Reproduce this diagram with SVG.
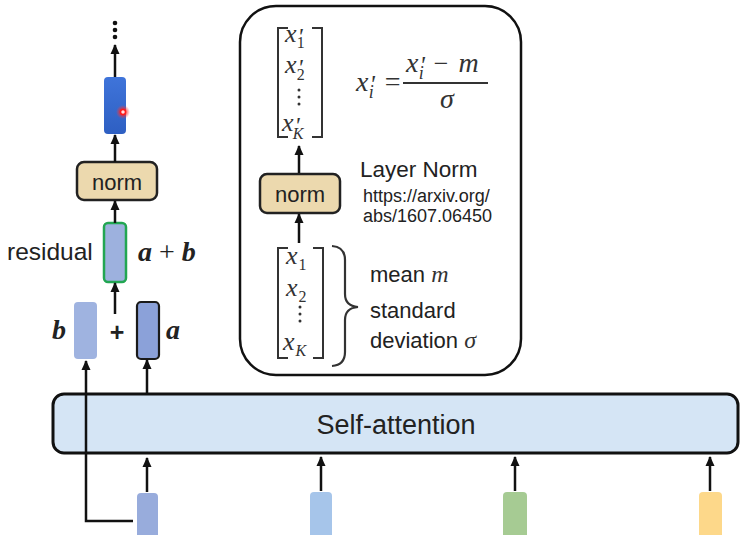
<svg xmlns="http://www.w3.org/2000/svg" width="745" height="535" viewBox="0 0 745 535">
<style>
.sans{font-family:"Liberation Sans",Arial,sans-serif;fill:#222}
.math{font-family:"Liberation Serif","DejaVu Serif",serif;font-style:italic;fill:#333}
.up{font-style:normal}
.bm{font-family:"Liberation Serif","DejaVu Serif",serif;font-style:italic;font-weight:bold;fill:#222}
.ln{stroke:#111;stroke-width:2.5;fill:none}
.br{stroke:#333;stroke-width:2;fill:none}
.norm{fill:#ecd9ae;stroke:#222;stroke-width:2.5}
</style>
<defs>
<marker id="ah" viewBox="0 0 10 10" refX="9" refY="5" markerWidth="10" markerHeight="10" markerUnits="userSpaceOnUse" orient="auto">
<path d="M0,0.5 L10,5 L0,9.5 z" fill="#111"/>
</marker>
<linearGradient id="blueTop" x1="0" y1="0" x2="0" y2="1">
<stop offset="0" stop-color="#3f74da"/><stop offset="1" stop-color="#2e5fc2"/>
</linearGradient>
<radialGradient id="glow">
<stop offset="0.3" stop-color="#ff2020" stop-opacity="0.9"/><stop offset="1" stop-color="#ff4040" stop-opacity="0"/>
</radialGradient>
</defs>
<rect width="745" height="535" fill="#ffffff"/>

<g id="layer-norm-panel">
<rect x="240" y="6" width="281" height="369" rx="36" fill="#ffffff" stroke="#111" stroke-width="2.5"/>
<!-- x' matrix -->
<path class="br" d="M288,28 L278,28 L278,137 L288,137"/>
<path class="br" d="M312,28 L322,28 L322,137 L312,137"/>
<text class="math" x="285" y="42" font-size="26">x<tspan font-size="24" dx="1" dy="2">'</tspan><tspan class="up" font-size="16" dx="-6" dy="4">1</tspan></text>
<text class="math" x="285" y="73" font-size="26">x<tspan font-size="24" dx="1" dy="2">'</tspan><tspan class="up" font-size="16" dx="-6" dy="5">2</tspan></text>
<g fill="#333"><circle cx="299" cy="90" r="1.5"/><circle cx="299" cy="97" r="1.5"/><circle cx="299" cy="104" r="1.5"/></g>
<text class="math" x="282" y="131" font-size="26">x<tspan font-size="24" dx="1" dy="2">'</tspan><tspan font-size="16" dx="-7" dy="6">K</tspan></text>
<!-- formula -->
<text class="math" x="356" y="91" font-size="28">x<tspan font-size="25" dx="1" dy="2">'</tspan><tspan font-size="18" dx="-6" dy="5">i</tspan><tspan class="up" font-size="28" dx="11" dy="-7">=</tspan></text>
<text class="math" x="406" y="72" font-size="28">x<tspan font-size="25" dx="1" dy="2">'</tspan><tspan font-size="18" dx="-6" dy="5">i</tspan><tspan class="up" font-size="26" dx="10" dy="-7">−</tspan><tspan dx="10">m</tspan></text>
<line x1="403" y1="83" x2="488" y2="83" stroke="#333" stroke-width="1.8"/>
<text class="math" font-size="28" x="447" y="108" text-anchor="middle">σ</text>
<!-- inner norm -->
<g id="norm-inner">
<rect class="norm" x="260" y="174" width="80" height="39" rx="7"/>
<text class="sans" x="300" y="202" font-size="22" text-anchor="middle">norm</text>
</g>
<text class="sans" x="360" y="177" font-size="22.5">Layer Norm</text>
<text class="sans" x="363" y="202" font-size="18" fill="#444">https://arxiv.org/</text>
<text class="sans" x="363" y="222" font-size="18" fill="#444">abs/1607.06450</text>
<!-- x matrix -->
<path class="br" d="M288,248 L278,248 L278,358 L288,358"/>
<path class="br" d="M313,248 L323,248 L323,358 L313,358"/>
<text class="math" x="286" y="264" font-size="26">x<tspan class="up" font-size="16" dx="1" dy="6">1</tspan></text>
<text class="math" x="286" y="296" font-size="26">x<tspan class="up" font-size="16" dx="1" dy="6">2</tspan></text>
<g fill="#333"><circle cx="300" cy="307" r="1.5"/><circle cx="300" cy="314" r="1.5"/><circle cx="300" cy="321" r="1.5"/></g>
<text class="math" x="283" y="350" font-size="26">x<tspan font-size="16" dx="1" dy="6">K</tspan></text>
<!-- brace -->
<path d="M332,246 Q345,247 345,260 L345,294 Q345,306 358,307 Q345,308 345,320 L345,352 Q345,365 332,366" fill="none" stroke="#333" stroke-width="2.2"/>
<text class="sans" x="370" y="282" font-size="22">mean <tspan class="math" font-size="24" fill="#333">m</tspan></text>
<text class="sans" x="370" y="318" font-size="22">standard</text>
<text class="sans" x="370" y="348" font-size="22">deviation <tspan class="math" font-size="24" fill="#333">σ</tspan></text>
</g>

<!-- top dots -->
<g id="vdots" fill="#111">
<circle cx="115" cy="23" r="2.3"/><circle cx="115" cy="30" r="2.3"/><circle cx="115" cy="37" r="2.3"/>
</g>

<g id="output">
<rect x="104" y="77" width="22" height="57" rx="4" fill="url(#blueTop)"/>
<circle cx="123" cy="112" r="7" fill="url(#glow)"/>
<circle cx="123" cy="112" r="2.5" fill="#ffe0e0" stroke="#ff1a1a" stroke-width="1.5"/>
</g>

<g id="norm-left">
<rect class="norm" x="77" y="162" width="80" height="38" rx="7"/>
<text class="sans" x="117" y="190" font-size="22" text-anchor="middle">norm</text>
</g>

<g id="residual">
<rect x="104" y="223" width="22" height="59" rx="4" fill="#9db1de" stroke="#22a652" stroke-width="2.5"/>
<text class="sans" x="7" y="260" font-size="24.5">residual</text>
<text class="bm" x="138" y="261" font-size="28">a <tspan font-style="normal" font-weight="normal">+</tspan> b</text>
</g>

<g id="b-vec">
<rect x="74" y="302" width="23" height="57" rx="4" fill="#9fb3e0"/>
<text class="bm" x="52" y="339" font-size="28">b</text>
</g>
<text class="sans" x="117" y="341" font-size="25" font-weight="bold" text-anchor="middle">+</text>
<g id="a-vec">
<rect x="137" y="302" width="22" height="57" rx="4" fill="#8ba1d9" stroke="#1a1a1a" stroke-width="2.2"/>
<text class="bm" x="166" y="339" font-size="28">a</text>
</g>

<g id="self-attention">
<rect x="53" y="394" width="685" height="59" rx="11" fill="#d5e5f5" stroke="#111" stroke-width="3"/>
<text class="sans" x="396" y="434" font-size="27" text-anchor="middle" fill="#222">Self-attention</text>
</g>

<g id="inputs">
<rect x="137" y="493" width="21" height="50" rx="4" fill="#98acdc"/>
<rect x="310" y="492" width="22" height="50" rx="4" fill="#a6c5ea"/>
<rect x="503" y="492" width="24" height="50" rx="4" fill="#a6cb93"/>
<rect x="699" y="492" width="23" height="50" rx="4" fill="#fdd88a"/>
</g>

<!-- connectors -->
<g id="connectors">
<line class="ln" x1="115" y1="77" x2="115" y2="45" marker-end="url(#ah)"/>
<line class="ln" x1="115" y1="162" x2="115" y2="135" marker-end="url(#ah)"/>
<line class="ln" x1="115" y1="223" x2="115" y2="201" marker-end="url(#ah)"/>
<line class="ln" x1="115" y1="314" x2="115" y2="283" marker-end="url(#ah)"/>
<polyline class="ln" points="133,521 86,521 86,361" marker-end="url(#ah)"/>
<line class="ln" x1="147" y1="394" x2="147" y2="360" marker-end="url(#ah)"/>
<line class="ln" x1="147" y1="492" x2="147" y2="458" marker-end="url(#ah)"/>
<line class="ln" x1="321" y1="491" x2="321" y2="457" marker-end="url(#ah)"/>
<line class="ln" x1="515" y1="491" x2="515" y2="457" marker-end="url(#ah)"/>
<line class="ln" x1="710" y1="491" x2="710" y2="457" marker-end="url(#ah)"/>
<line class="ln" x1="299" y1="173" x2="299" y2="146" marker-end="url(#ah)"/>
<line class="ln" x1="299" y1="243" x2="299" y2="214" marker-end="url(#ah)"/>
</g>
</svg>
